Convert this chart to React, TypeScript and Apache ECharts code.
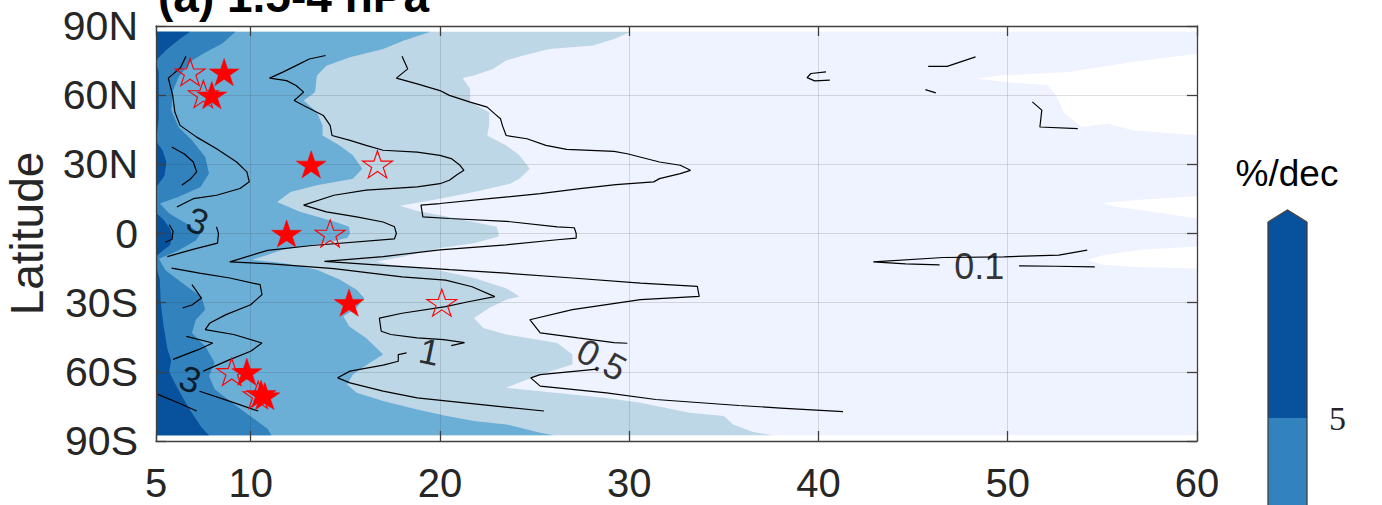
import React, { useEffect, useRef } from 'react';
import * as echarts from 'echarts';

const FONT = '"Liberation Sans", Arial, Helvetica, sans-serif';

// ---------- data (x: 5..60, latitude: -90..90) ----------
const xMin = 5;
const xMax = 60;
const latMin = -90;
const latMax = 90;
const dataLatTop = 87.5;
const dataLatBottom = -87.5;

// right-hand edges of each filled band (band reaches from x=5 to the edge), top -> bottom
const band1Edge = [[60, 87.5], [60, -87.5]];
const band2Edge = [[30.1, 87.5], [29.2, 84.4], [28.1, 81.5], [25.8, 80], [24.4, 77.2], [23.5, 75], [22.8, 71.4], [21.8, 68.5], [21.2, 67.4], [21.6, 62.7], [21.6, 57], [22.6, 52.6], [22.6, 46.9], [22.5, 42.5], [23.5, 38.2], [24.2, 33.9], [24.75, 28.1], [24.2, 23.8], [23.7, 21.6], [21.8, 18], [20, 15.1], [18.8, 13.3], [17.9, 12], [18.8, 9.8], [20.5, 7.2], [21.8, 5], [23, 2.9], [23.1, 0], [23.1, -1.3], [21.8, -4.2], [20, -6.3], [18.1, -10], [16.65, -12.1], [17.4, -13.6], [20, -16], [21.8, -19.3], [23.5, -23.7], [24.2, -27.3], [23.5, -28.7], [22.6, -32.3], [21.8, -36.6], [22.3, -41], [23.5, -43.8], [26.2, -47.5], [27, -52.5], [27, -56.8], [25.3, -61.2], [23.5, -66.9], [25.3, -68.4], [28.8, -71.3], [30.6, -73.4], [33.2, -77.7], [35, -79.2], [35.5, -82.8], [36.5, -86], [37.6, -87.5]];
const band3Edge = [[19.5, 87.5], [18.1, 83.7], [17.0, 80], [15.25, 76.4], [14.0, 72.8], [13.5, 68.5], [13.4, 61.3], [12.8, 57.7], [13.5, 52.6], [13.8, 46.9], [13.8, 42.5], [14.7, 38.2], [15.4, 33.9], [15.9, 28.1], [15.4, 23.8], [13.5, 20.9], [12.1, 18], [11.4, 13.7], [12.6, 9.4], [14.5, 5], [15.2, 2.9], [15.25, 0], [15.1, -2], [13.8, -4.2], [11.7, -7.1], [10.1, -11.4], [11.7, -12.8], [13.5, -15.7], [14.7, -20], [15.6, -24.4], [16.0, -28], [15.6, -32.3], [14.9, -35.9], [15.2, -40.2], [16.1, -45.3], [17.0, -52.5], [16.3, -56.1], [15.4, -61.2], [15.1, -65.5], [15.6, -69.1], [17.0, -72.7], [18.8, -76.3], [20.3, -79], [21.8, -81.3], [23.5, -82.8], [25.3, -86.4], [26, -87.5]];
const band4Edge = [[9.2, 87.5], [8.5, 82.4], [7.6, 78.5], [6.9, 75], [6.2, 68], [5.9, 62], [5.8, 53.5], [6.2, 46], [6.9, 40.5], [7.6, 33.2], [7.8, 26], [7.35, 20.2], [6.2, 15.9], [5.2, 13], [5.7, 8.7], [6.6, 4.3], [7.35, 0], [7.1, -3], [6.2, -7.3], [5.15, -11], [5.5, -15.9], [6.65, -23.1], [7.4, -27.4], [7.6, -33.1], [7.1, -37.4], [6.9, -43.2], [7.6, -48.9], [8.1, -56.1], [7.8, -61.8], [8.1, -67.6], [9.0, -73.3], [9.95, -79], [10.9, -84.8], [11.1, -87.5]];
const band5Edge = [[6.8, 87.5], [6.2, 84], [5.6, 80], [5.1, 76], [5.0, 74], [5.15, 70], [5.15, 50], [5.0, 40], [5.35, 36], [5.55, 31], [5.45, 25], [5.0, 20], [5.0, 9], [5.4, 6], [5.75, 2], [5.85, -1], [5.75, -5], [5.35, -7.5], [5.0, -10], [5.0, -14], [5.2, -20], [5.25, -30], [5.4, -40], [5.6, -50], [5.8, -55], [5.7, -60], [6.0, -65], [6.4, -71], [6.9, -78], [7.4, -84], [7.8, -87.5]];
const bandEdges = [band1Edge, band2Edge, band3Edge, band4Edge, band5Edge];

// regions below the lowest level
const lowPocket1 = [[60, 78], [56.6, 74.4], [53.2, 70], [49.8, 68.6], [48.4, 67.2], [49.8, 65.8], [52.1, 64.3], [52.5, 60.7], [53, 52], [53.9, 46.2], [55.3, 47.7], [56.6, 44.8], [60, 42.6]];
const lowPocket2 = [[60, 16.2], [57, 14.6], [55, 13.2], [55.7, 11.6], [57.1, 10.1], [60, 6.5]];
const lowPocket3 = [[60, -5.6], [57, -7], [55, -9.5], [54.2, -11.5], [55, -13.5], [57, -14.5], [60, -15.2]];
const lowPockets = [lowPocket1, lowPocket2, lowPocket3];

// contour lines
const contour3 = [
  [[6.58, 76.9], [6.3, 72], [5.65, 67.4], [5.88, 59.9], [6.0, 52.6], [6.27, 46.9], [7.15, 41.8], [8.2, 36.8], [9.26, 31], [9.8, 26.7], [9.93, 22.4], [9.44, 19.5], [8.2, 16.6], [6.97, 15.1], [6.1, 11.5]],
  [[5.83, 37.5], [6.5, 34.5], [6.97, 31], [7.15, 26.7], [6.8, 23.5], [6.36, 20.9]],
  [[5.7, 3.8], [5.9, 1], [5.85, -2.5], [5.5, -3.8]],
  [[8.2, 2.9], [8.3, 0], [8.25, -4.2], [7.0, -6.8], [5.6, -10]],
  [[5.83, -15], [7.3, -17.2], [8.9, -19.3], [10.5, -22.2], [10.6, -26.5], [10, -30.9], [8.7, -35.2], [7.85, -38.8], [7.6, -41.7], [9.1, -43.8], [10.6, -47.5], [10, -51.1], [8.9, -54.7], [7.5, -59.7]],
  [[6.9, -22.2], [7.4, -28], [6.9, -31], [6.4, -32.3]],
  [[6.6, -44.6], [8.0, -47.5], [7.2, -50.5], [5.9, -54.6]],
  [[7.3, -68.4], [8.8, -72.5], [10.4, -77]],
  [[5.1, -69.8], [6.2, -73.5], [7.15, -77]],
];
const contour1 = [
  [[13.96, 77.2], [13.1, 75.7], [12.4, 72.8], [11.7, 70], [11.0, 67.4], [11.9, 66.3], [12.4, 64.2], [12.8, 61.3], [12.3, 57.7], [12.8, 55.5], [13.84, 51.2], [14.2, 46.9], [14.3, 42.5], [15.25, 40.4], [16.1, 38.2], [17.0, 36.1], [18.8, 35.3], [20.0, 33.9], [20.6, 32.5], [21.06, 29.6], [21.27, 27.4], [20.9, 25.5], [20.5, 23.1], [20.0, 21.6], [18.8, 20.2], [16.1, 18.8], [14.4, 16.6], [12.8, 12.3], [14.0, 9.4], [15.6, 7.2], [17.0, 5], [17.6, 2.9], [17.7, 0], [17.6, -2.3], [13.25, -5.2], [10.9, -7.3], [8.9, -12.3], [10.9, -13.1], [14.4, -15.2], [18, -18.8], [20.3, -20.2], [21.7, -23.1], [22.9, -27.4], [21.5, -29.6], [20.3, -31.7], [18, -34.6], [16.8, -36.7], [16.9, -42.4], [17.4, -43.8], [18.8, -45.3], [20.2, -46], [21.3, -47.3], [20.6, -48.6]],
  [[18.24, -51.8], [17.8, -52.5], [17.8, -55.4], [17.0, -57.1], [15.25, -59.7], [14.6, -62.6], [15.25, -64.8], [17.0, -68.4], [18.8, -71.3], [20.3, -72.6], [25.5, -77]],
];
const contour05 = [
  [[18, 76.9], [18.3, 71.4], [17.7, 67.4], [18.8, 64.9], [20, 62], [20.5, 59.9], [21.6, 57], [22.5, 54.8], [22.9, 51.9], [23.2, 49.8], [23.3, 46.9], [23.5, 42.5], [24.6, 41.1], [25.6, 38.2], [26.7, 36.5], [29.2, 35.6], [29.9, 34.6], [31.6, 31], [32.7, 29.6], [33.24, 27.4], [32.7, 26], [31.6, 23.8], [31.3, 22.4], [29.3, 21.2], [27.4, 19.5], [25.3, 17.3], [22.6, 15.1], [20, 13], [19, 12.3], [19.1, 7.2], [20.5, 6.5], [23.5, 5.3], [26.2, 2.9], [27.1, 2.5], [27.2, 0], [27.2, -2], [26.2, -2.7], [23.5, -4.9], [20, -7.1], [17, -10], [13.9, -12.1], [17, -13.8], [20.5, -15.7], [23.5, -17.2], [27, -19.3], [30.6, -21.5], [33.6, -22.9], [33.7, -27.3], [30.6, -28.7], [27, -33], [24.75, -37.4], [25.3, -43.1], [27.3, -45.3], [29.2, -47.3], [29.9, -47.6]],
  [[28.3, -58.8], [25.3, -61.2], [24.8, -62.6], [25.3, -66.2], [28.8, -69.1], [31.4, -72], [35.8, -74.6], [38, -75.7], [41.3, -77.3]],
];
const contour01 = [
  [[54.2, -7.2], [52.7, -9.4], [49.8, -10.1], [46.6, -10.4], [42.9, -12.3], [44.6, -13.2], [46.4, -13.6]],
  [[50.6, -14], [52.5, -14.2], [54.6, -14.5]],
  [[40.4, 70.1], [39.6, 69.4], [39.4, 67.6], [39.8, 66.2], [40.6, 66.5]],
  [[45.8, 72.5], [46.8, 72.5], [48.3, 76.6]],
  [[45.65, 62.4], [46.2, 61]],
  [[51.3, 57.1], [51.8, 53.5], [51.7, 46.2], [53.7, 45.5]],
];
const contourSegments = [...contour3, ...contour1, ...contour05, ...contour01];

const labelPositions = [[7.2, 5.3], [6.8, -63.3], [19.45, -51.3], [28.55, -54.7], [48.5, -14.4]];
const labelTexts = ['3', '3', '1', '0.5', '0.1'];

const filledStars = [[8.6, 70], [7.95, 60], [13.2, 30], [11.9, 0], [15.2, -30], [9.8, -60], [10.55, -69.5], [10.75, -70.5]];
const hollowStars = [[6.8, 70], [7.5, 60.5], [16.7, 30], [14.2, 0], [20.1, -30], [9.0, -60], [10.4, -70]];

const colorbarLevels = ['5'];

// ---------- styles ----------
const bandColors = ['#eff3ff', '#bdd7e7', '#6baed6', '#3182bd', '#08519c'];
const colorbarColors = ['#3182bd', '#08519c'];
const labelAngles = [-20, -20, -12, -28, 0];
const AXIS_COLOR = '#404040';
const TEXT_COLOR = '#262626';
const STAR =
  'path://M50,0L61.23,34.55L97.55,34.55L68.17,55.9L79.39,90.45L50,69.1L20.61,90.45L31.83,55.9L2.45,34.55L38.77,34.55Z';

function latLabel(v: number): string {
  if (v > 0) return `${v}N`;
  if (v < 0) return `${-v}S`;
  return '0';
}

export default function App() {
  const ref = useRef<HTMLDivElement>(null);
  useEffect(() => {
    if (!ref.current) return;
    const chart = echarts.init(ref.current, undefined, { renderer: 'svg' });

    const axisLine = { show: true, onZero: false, lineStyle: { color: AXIS_COLOR, width: 1.3 } };
    const innerTick = { show: true, inside: true, length: 10, lineStyle: { color: AXIS_COLOR, width: 1.3 } };
    const gridLine = { show: true, lineStyle: { color: 'rgba(38,38,38,0.15)', width: 1 } };

    const lineSeries = contourSegments.map((seg) => ({
      type: 'line',
      xAxisIndex: 0,
      yAxisIndex: 0,
      data: seg,
      symbol: 'none',
      showSymbol: false,
      smooth: false,
      silent: true,
      z: 4,
      lineStyle: { color: '#000', width: 1.2 },
    }));

    // colorbar: top band occupies the grid (level index 1..2), lower band continues below the window
    const cbTop = colorbarColors.length;
    const cbBottom = colorbarColors.length - 1;

    const option: any = {
      animation: false,
      grid: [
        { left: 156, top: 26, width: 1041, height: 415, containLabel: false, outerBoundsMode: 'none' },
        { left: 1268, top: 222, width: 39, height: 196, containLabel: false, outerBoundsMode: 'none' },
      ],
      xAxis: [
        {
          type: 'value', gridIndex: 0, min: xMin, max: xMax, position: 'bottom', z: 3,
          axisLine, axisTick: innerTick, splitLine: gridLine,
          axisLabel: { fontSize: 40, color: TEXT_COLOR, fontFamily: FONT, margin: 22 },
        },
        {
          type: 'value', gridIndex: 0, min: xMin, max: xMax, position: 'top', z: 3,
          axisLine, axisTick: innerTick, splitLine: { show: false }, axisLabel: { show: false },
        },
        { type: 'value', gridIndex: 1, min: 0, max: 1, show: false },
      ],
      yAxis: [
        {
          type: 'value', gridIndex: 0, min: latMin, max: latMax, interval: 30, position: 'left', z: 3,
          axisLine, axisTick: innerTick, splitLine: gridLine,
          axisLabel: { fontSize: 41, color: TEXT_COLOR, fontFamily: FONT, margin: 18, formatter: latLabel },
          name: 'Latitude', nameLocation: 'middle', nameGap: 106, nameRotate: 90,
          nameTextStyle: { fontSize: 46, color: TEXT_COLOR, fontFamily: FONT },
        },
        {
          type: 'value', gridIndex: 0, min: latMin, max: latMax, interval: 30, position: 'right', z: 3,
          axisLine, axisTick: innerTick, splitLine: { show: false }, axisLabel: { show: false },
        },
        {
          type: 'value', gridIndex: 1, min: cbBottom, max: cbTop, position: 'right',
          axisLine: { show: false }, splitLine: { show: false },
          axisTick: { show: true, inside: false, length: 12, customValues: colorbarLevels.map((_, i) => i + 1), lineStyle: { color: AXIS_COLOR, width: 1.3 } },
          axisLabel: {
            show: true,
            showMinLabel: true,
            customValues: colorbarLevels.map((_, i) => i + 1),
            formatter: (v: number) => colorbarLevels[Math.round(v) - 1] ?? '',
            fontFamily: '"Liberation Serif", "Times New Roman", serif', fontSize: 34, color: TEXT_COLOR, margin: 22,
          },
        },
      ],
      graphic: [
        {
          type: 'text', x: 158, y: -4.5,
          style: { text: '(a) 1.5-4 hPa', fontSize: 46, fontWeight: 'bold', fontFamily: FONT, fill: '#000', align: 'left', verticalAlign: 'middle' },
        },
        {
          type: 'text', x: 1287, y: 173,
          style: { text: '%/dec', fontSize: 37, fontFamily: FONT, fill: '#000', align: 'center', verticalAlign: 'middle' },
        },
      ],
      series: [
        {
          type: 'custom', xAxisIndex: 0, yAxisIndex: 0, z: 1, silent: true,
          data: bandEdges.map((e) => [e[0][0], e[0][1]]),
          renderItem: (params: any, api: any) => {
            const edge = bandEdges[params.dataIndex];
            const pts = [[xMin, dataLatTop], ...edge, [xMin, dataLatBottom]].map((p) => api.coord(p));
            return { type: 'polygon', shape: { points: pts }, style: { fill: bandColors[params.dataIndex], stroke: null } };
          },
        },
        {
          type: 'custom', xAxisIndex: 0, yAxisIndex: 0, z: 1.5, silent: true,
          data: lowPockets.map((p) => [p[0][0], p[0][1]]),
          renderItem: (params: any, api: any) => {
            const pts = lowPockets[params.dataIndex].map((p) => api.coord(p));
            return { type: 'polygon', shape: { points: pts }, style: { fill: '#ffffff', stroke: null } };
          },
        },
        ...lineSeries,
        {
          type: 'scatter', xAxisIndex: 0, yAxisIndex: 0, z: 5, silent: true,
          data: hollowStars, symbol: STAR, symbolSize: [30, 28.5], symbolKeepAspect: true,
          itemStyle: { color: 'rgba(255,255,255,0)', borderColor: '#ff0000', borderWidth: 1.1, opacity: 1 },
        },
        {
          type: 'scatter', xAxisIndex: 0, yAxisIndex: 0, z: 5, silent: true,
          data: filledStars, symbol: STAR, symbolSize: [30, 28.5], symbolKeepAspect: true,
          itemStyle: { color: '#ff0000', borderColor: '#ff0000', borderWidth: 0.5, opacity: 1 },
        },
        {
          type: 'scatter', xAxisIndex: 0, yAxisIndex: 0, z: 6, silent: true,
          symbol: 'circle', symbolSize: 1, itemStyle: { color: 'rgba(0,0,0,0)' },
          data: labelPositions.map((p, i) => ({
            value: p,
            label: { show: true, position: 'inside', formatter: labelTexts[i], rotate: labelAngles[i], fontSize: 36, fontFamily: FONT, color: '#000' },
          })),
        },
        {
          type: 'custom', xAxisIndex: 2, yAxisIndex: 2, z: 2, silent: true, clip: false,
          data: colorbarColors.map((_, i) => [0.5, i + 0.5]),
          renderItem: (params: any, api: any) => {
            const i = params.dataIndex;
            const bl = api.coord([0, i]);
            const tr = api.coord([1, i + 1]);
            const stroke = { stroke: AXIS_COLOR, lineWidth: 1.3, fill: null };
            const children: any[] = [
              { type: 'rect', shape: { x: bl[0], y: tr[1], width: tr[0] - bl[0], height: bl[1] - tr[1] }, style: { fill: colorbarColors[i] } },
              { type: 'line', shape: { x1: bl[0], y1: bl[1], x2: bl[0], y2: tr[1] }, style: stroke },
              { type: 'line', shape: { x1: tr[0], y1: bl[1], x2: tr[0], y2: tr[1] }, style: stroke },
            ];
            if (i === colorbarColors.length - 1) {
              const apex = [(bl[0] + tr[0]) / 2, tr[1] - 12];
              children.push({ type: 'polygon', shape: { points: [[bl[0], tr[1] + 0.5], apex, [tr[0], tr[1] + 0.5]] }, style: { fill: colorbarColors[i] } });
              children.push({ type: 'polyline', shape: { points: [[bl[0], tr[1]], apex, [tr[0], tr[1]]] }, style: stroke });
            }
            return { type: 'group', children };
          },
        },
      ],
    };
    chart.setOption(option);
    return () => chart.dispose();
  }, []);

  return <div ref={ref} style={{ position: 'fixed', left: 0, top: 0, width: 1382, height: 505, background: '#fff' }} />;
}
